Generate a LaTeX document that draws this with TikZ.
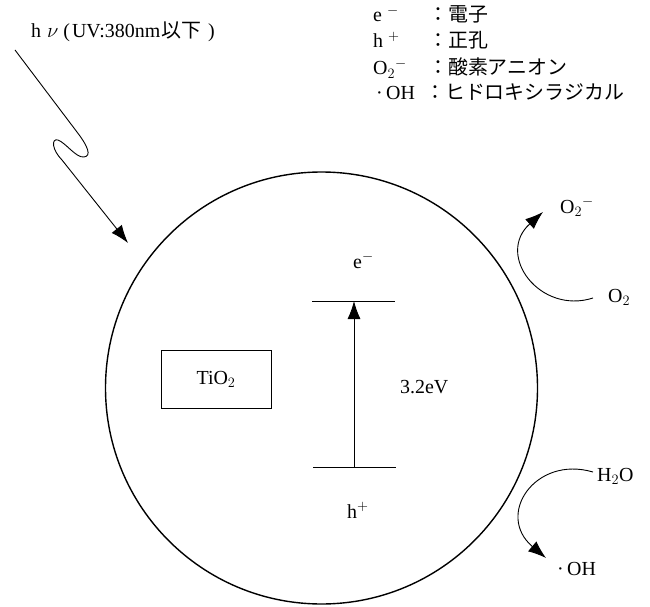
\documentclass[tikz,border=0pt]{standalone}
\usepackage{fontspec}
\setmainfont{Liberation Serif}
\newfontfamily\jp{Noto Sans CJK JP}
\usetikzlibrary{arrows.meta}
\begin{document}
\begin{tikzpicture}[x=1bp,y=-1bp,
  arr/.style={-{Latex[length=18bp,width=13bp]}, line width=0.9bp},
  thinline/.style={line width=0.9bp},
  lbl/.style={inner sep=0pt, anchor=base west, font=\fontsize{20}{24}\selectfont},
  jlbl/.style={inner sep=0pt, anchor=base west, font=\fontsize{20}{24}\selectfont\jp}]
\useasboundingbox (0,0) rectangle (650,607);

% legend
\node[lbl] (k1) at (373,22) {e\hspace{5bp}$^{-}$};
\node[jlbl] (j1) at (428,22) {：電子};
\node[lbl] (k2) at (373,48) {h\hspace{5bp}$^{+}$};
\node[jlbl] (j2) at (428,48) {：正孔};
\node[lbl] (k3) at (373,75) {O$_2{}^{-}$};
\node[jlbl] (j3) at (428,75) {：酸素アニオン};
\node[lbl] (k4) at (376,100) {·\,OH};
\node[jlbl] (j4) at (425,100) {：ヒドロキシラジカル};

% light
\node[lbl] (hv) at (31,38) {h\hspace{6bp}$\nu$\hspace{5bp}(\hspace{2bp}UV:380nm\hspace{1bp}{\jp 以下}\hspace{7bp})};
\coordinate (w0) at (15,50);
\coordinate (w1) at (128,243);
\draw[arr] (w0) -- (80,136) .. controls (87,146) and (92,156) .. (84,157)
  .. controls (76,158) and (66,143) .. (58,140)
  .. controls (51,138) and (52,150) .. (62,160) -- (w1);

% particle
\node[circle, draw, line width=1.4bp, minimum size=432bp, inner sep=0pt] (p) at (321.5,388) {};
\node[draw, thinline, inner sep=0pt, minimum width=110bp, minimum height=58bp,
  font=\fontsize{20}{24}\selectfont] (tio) at (216,379) {TiO$_2$};

% band gap
\coordinate (cbl) at (312,301);
\coordinate (cbr) at (395,301);
\coordinate (vbl) at (313,467);
\coordinate (vbr) at (396,467);
\coordinate (cbm) at (354,301);
\coordinate (vbm) at (354,467);
\draw[thinline] (cbl) -- (cbr);
\draw[thinline] (vbl) -- (vbr);
\draw[arr] (vbm) -- (cbm);
\node[lbl] (e) at (353,268) {e$^{-}$};
\node[lbl] (h) at (347,518) {h$^{+}$};
\node[lbl] (gap) at (400,393) {3.2eV};

% reactions
\node[lbl] (o2m) at (560,213) {O$_2{}^{-}$};
\node[lbl] (o2) at (608,302) {O$_2$};
\coordinate (o2s) at (593,298);
\coordinate (o2e) at (543,212);
\draw[arr] (o2s) .. controls (540,315) and (495,255) .. (o2e);

\node[lbl] (h2o) at (597,481) {H$_2$O};
\node[lbl] (oh) at (557,575) {·\,OH};
\coordinate (h2os) at (593,472);
\coordinate (ohe) at (546,558);
\draw[arr] (h2os) .. controls (535,455) and (495,515) .. (ohe);
\end{tikzpicture}
\end{document}
